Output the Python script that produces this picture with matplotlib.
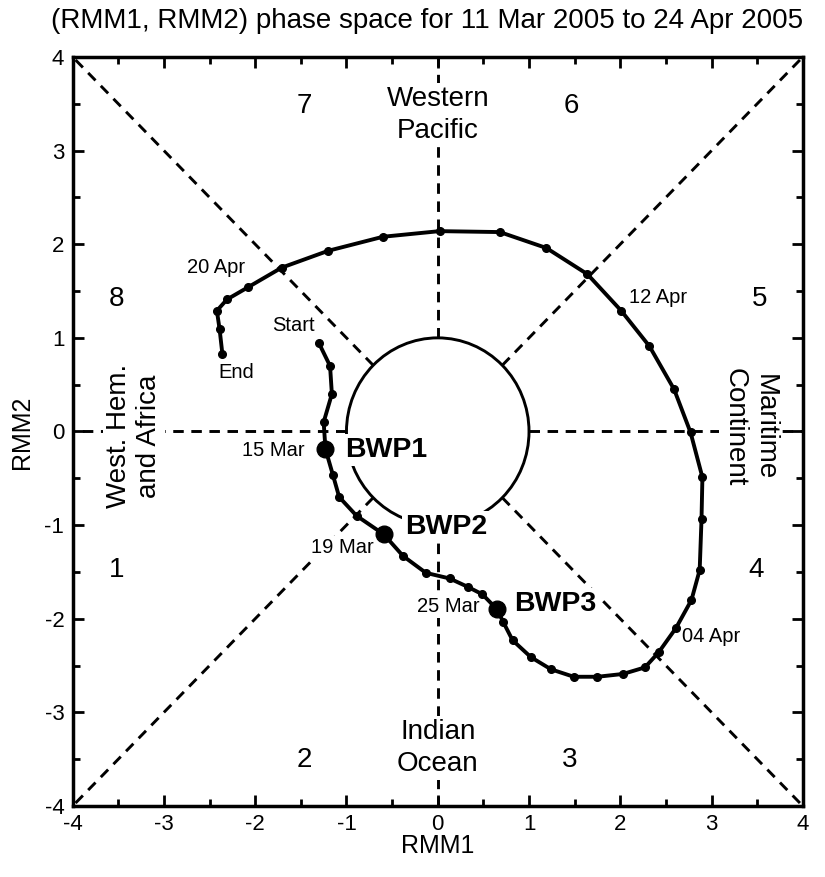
import matplotlib
matplotlib.use("Agg")
import matplotlib.pyplot as plt
from matplotlib.patches import Circle
from matplotlib.ticker import MultipleLocator

plt.rcParams['font.family'] = ['Liberation Sans', 'DejaVu Sans']
plt.rcParams['axes.unicode_minus'] = False

# daily RMM values, 11 Mar 2005 .. 24 Apr 2005
rmm1 = [-1.30, -1.18, -1.16, -1.25, -1.23, -1.15, -1.08, -0.89, -0.59, -0.38,
        -0.13, 0.13, 0.33, 0.49, 0.65, 0.72, 0.82, 1.02, 1.24, 1.49,
        1.75, 2.03, 2.27, 2.42, 2.61, 2.78, 2.87, 2.89, 2.90, 2.77,
        2.59, 2.32, 2.01, 1.64, 1.19, 0.68, 0.02, -0.60, -1.20, -1.71,
        -2.08, -2.31, -2.42, -2.39, -2.36]
rmm2 = [0.94, 0.70, 0.40, 0.10, -0.19, -0.46, -0.70, -0.90, -1.10, -1.33,
        -1.51, -1.57, -1.66, -1.74, -1.90, -2.04, -2.23, -2.41, -2.54, -2.62,
        -2.62, -2.59, -2.52, -2.36, -2.10, -1.80, -1.48, -0.94, -0.49, -0.01,
        0.45, 0.91, 1.29, 1.68, 1.96, 2.13, 2.14, 2.08, 1.93, 1.75,
        1.54, 1.41, 1.29, 1.09, 0.83]

# big dots (BWP events) = day index
bwp_idx = [4, 8, 14]
bwp_names = ["BWP1", "BWP2", "BWP3"]
bwp_label_xy = [(-1.02, -0.20), (-0.36, -1.02), (0.84, -1.84)]

# date labels: text, x, y, ha
date_labels = [("Start", -1.58, 1.13, "center"),
               ("End", -2.21, 0.63, "center"),
               ("15 Mar", -1.46, -0.20, "right"),
               ("19 Mar", -0.70, -1.24, "right"),
               ("25 Mar", 0.12, -1.87, "center"),
               ("04 Apr", 2.68, -2.19, "left"),
               ("12 Apr", 2.10, 1.43, "left"),
               ("20 Apr", -2.11, 1.75, "right")]

phase_nums = ["1", "2", "3", "4", "5", "6", "7", "8"]
phase_xy = [(-3.52, -1.48), (-1.46, -3.51), (1.45, -3.51), (3.49, -1.48),
            (3.53, 1.41), (1.46, 3.48), (-1.46, 3.48), (-3.52, 1.41)]

fig = plt.figure(figsize=(8.25, 8.77), dpi=100)
ax = fig.add_axes([0.0881, 0.081, 0.885, 0.854])
ax.set_xlim(-4, 4)
ax.set_ylim(-4, 4)

# phase dividers
dash = dict(color="black", lw=2.1, dashes=(3.6, 2.6), zorder=1)
r = 0.7071
ax.plot([0, 0], [1, 4], **dash)
ax.plot([0, 0], [-1, -4], **dash)
ax.plot([1, 4], [0, 0], **dash)
ax.plot([-1, -4], [0, 0], **dash)
ax.plot([r, 4], [r, 4], **dash)
ax.plot([-r, -4], [-r, -4], **dash)
ax.plot([r, 4], [-r, -4], **dash)
ax.plot([-r, -4], [r, 4], **dash)
ax.add_patch(Circle((0, 0), 1, fill=False, lw=2.1, color="black", zorder=2))

# track
ax.plot(rmm1, rmm2, "-o", color="black", lw=2.8, ms=5.5, zorder=5)
ax.plot([rmm1[i] for i in bwp_idx], [rmm2[i] for i in bwp_idx], "o",
        color="black", ms=12, zorder=6)

box = dict(boxstyle="square,pad=0.1", fc="white", ec="none")
for name, (x, y) in zip(bwp_names, bwp_label_xy):
    ax.text(x, y, name, fontsize=20.5, fontweight="bold", ha="left",
            va="center", bbox=box, zorder=4)
for txt, x, y, ha in date_labels:
    ax.text(x, y, txt, fontsize=14.5, ha=ha, va="center", bbox=box, zorder=4)
for n, (x, y) in zip(phase_nums, phase_xy):
    ax.text(x, y, n, fontsize=20, ha="center", va="center")

ax.text(0, 3.38, "Western\nPacific", fontsize=20, ha="center", va="center",
        linespacing=1.3, bbox=box, zorder=4)
ax.text(0, -3.38, "Indian\nOcean", fontsize=20, ha="center", va="center",
        linespacing=1.3, bbox=box, zorder=4)
ax.text(-3.33, -0.05, "West. Hem.\nand Africa", fontsize=20, rotation=90,
        ha="center", va="center", linespacing=1.2, bbox=box, zorder=4)
ax.text(3.42, 0.05, "Maritime\nContinent", fontsize=20, rotation=-90,
        ha="center", va="center", linespacing=1.2, bbox=box, zorder=4)

ax.xaxis.set_major_locator(MultipleLocator(1))
ax.yaxis.set_major_locator(MultipleLocator(1))
ax.xaxis.set_minor_locator(MultipleLocator(0.5))
ax.yaxis.set_minor_locator(MultipleLocator(0.5))
ax.tick_params(which="both", direction="in", top=True, right=True,
               width=2, labelsize=16, pad=6)
ax.tick_params(which="major", length=8)
ax.tick_params(which="minor", length=5)
for s in ax.spines.values():
    s.set_linewidth(2.5)

fig.text(0.518, 1 - 21 / 877, "(RMM1, RMM2) phase space for 11 Mar 2005 to 24 Apr 2005",
         fontsize=20, ha="center", va="center")
fig.text(438 / 825, 1 - 846 / 877, "RMM1", fontsize=18, ha="center", va="center")
fig.text(22 / 825, 1 - 432 / 877, "RMM2", fontsize=18, ha="center", va="center",
         rotation=90)

fig.savefig("out.png", dpi=100)
